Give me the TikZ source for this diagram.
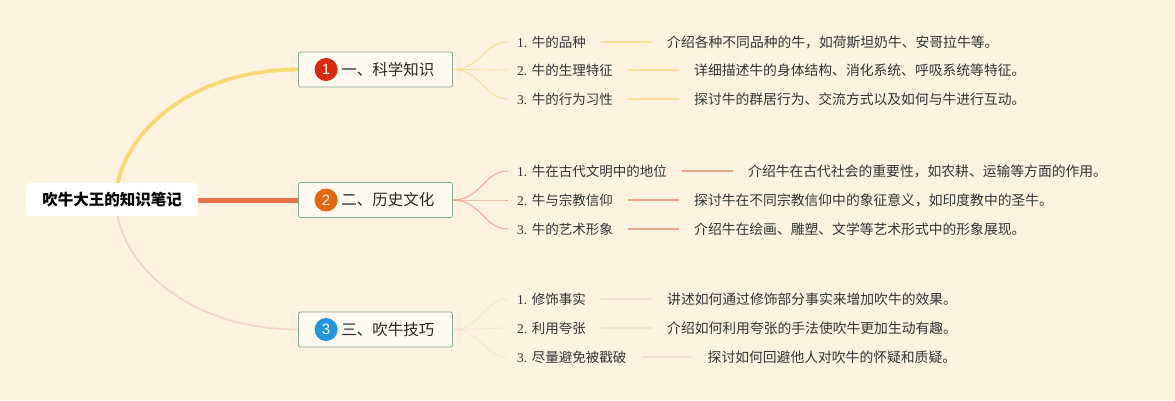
\documentclass[tikz,border=0pt]{standalone}
\usepackage{fontspec}
\setmainfont{Liberation Serif}
\newfontfamily\cjk{Noto Sans CJK SC}
\newfontfamily\numfont{Liberation Sans}
\usetikzlibrary{positioning}
\definecolor{bgc}{HTML}{FDF3E0}
\definecolor{ylw}{HTML}{F9D876}
\definecolor{org}{HTML}{E5744A}
\definecolor{pnk}{HTML}{F2D6C6}
\definecolor{lylw}{HTML}{F9DF98}
\definecolor{lorg}{HTML}{EBA68B}
\definecolor{lpnk}{HTML}{F5E3D8}
\definecolor{bxb}{HTML}{88AB90}
\definecolor{bxf}{HTML}{FFFAF0}
\definecolor{c1}{HTML}{D42B0F}
\definecolor{c2}{HTML}{E4670F}
\definecolor{c3}{HTML}{2196DA}
\definecolor{txt}{HTML}{333333}
\begin{document}
\begin{tikzpicture}[x=1pt,y=-1pt,
  rootbox/.style={fill=white, rounded corners=4pt, minimum width=172pt, minimum height=33pt, inner sep=0pt, font=\cjk\bfseries\fontsize{15.5}{17}\selectfont, text=black},
  brbox/.style={draw=bxb, line width=0.8pt, fill=bxf, rounded corners=2pt, minimum width=154pt, minimum height=35pt, inner sep=0pt},
  brtext/.style={anchor=west, inner sep=0pt, font=\cjk\fontsize{15.5}{17}\selectfont, text=black!85},
  numc/.style={circle, minimum size=23pt, inner sep=0pt, text=white, font=\numfont\fontsize{15}{16}\selectfont},
  leaf/.style={anchor=west, inner sep=0pt, text=txt, font=\fontsize{13.5}{15}\selectfont},
  desc/.style={inner sep=0pt, text=txt, font=\cjk\fontsize{13.8}{15}\selectfont, right=81pt of #1},
  lk/.style={line width=1.2pt, shorten <=15pt, shorten >=15pt},
  tw/.style={line width=0.9pt}
]
\fill[bgc] (0,0) rectangle (1175,400);
\useasboundingbox (0,0) rectangle (1175,400);

% branch boxes
\node[brbox] (b1) at (375.5,69.5) {};
\node[brbox] (b2) at (375.5,200) {};
\node[brbox] (b3) at (375.5,329.5) {};

% root anchor coordinate
\coordinate (rc) at (116,200);

% main connectors
\draw[ylw, line width=3.8pt] (rc) .. controls (116,140) and (185,69.5) .. (b1.west);
\draw[pnk, line width=1.8pt] (rc) .. controls (116,260) and (185,329.5) .. (b3.west);
\draw[org, line width=5pt] (rc) -- (b2.west);

% root
\node[rootbox] (root) at (112,199.5) {吹牛大王的知识笔记};

% box contents
\node[numc, fill=c1] (n1) at ([xshift=28pt]b1.west) {1};
\node[brtext] (t1) at ([xshift=43pt]b1.west) {一、科学知识};
\node[numc, fill=c2] (n2) at ([xshift=28pt]b2.west) {2};
\node[brtext] (t2) at ([xshift=43pt]b2.west) {二、历史文化};
\node[numc, fill=c3] (n3) at ([xshift=28pt]b3.west) {3};
\node[brtext] (t3) at ([xshift=43pt]b3.west) {三、吹牛技巧};

% leaves branch 1
\node[leaf] (l11) at (517,42) {1. {\cjk 牛的品种}};
\node[leaf] (l12) at (517,70) {2. {\cjk 牛的生理特征}};
\node[leaf] (l13) at (517,99) {3. {\cjk 牛的行为习性}};
\node[desc=l11] (d11) {介绍各种不同品种的牛，如荷斯坦奶牛、安哥拉牛等。};
\node[desc=l12] (d12) {详细描述牛的身体结构、消化系统、呼吸系统等特征。};
\node[desc=l13] (d13) {探讨牛的群居行为、交流方式以及如何与牛进行互动。};
% leaves branch 2
\node[leaf] (l21) at (517,171) {1. {\cjk 牛在古代文明中的地位}};
\node[leaf] (l22) at (517,200) {2. {\cjk 牛与宗教信仰}};
\node[leaf] (l23) at (517,229) {3. {\cjk 牛的艺术形象}};
\node[desc=l21] (d21) {介绍牛在古代社会的重要性，如农耕、运输等方面的作用。};
\node[desc=l22] (d22) {探讨牛在不同宗教信仰中的象征意义，如印度教中的圣牛。};
\node[desc=l23] (d23) {介绍牛在绘画、雕塑、文学等艺术形式中的形象展现。};
% leaves branch 3
\node[leaf] (l31) at (517,299) {1. {\cjk 修饰事实}};
\node[leaf] (l32) at (517,328) {2. {\cjk 利用夸张}};
\node[leaf] (l33) at (517,357) {3. {\cjk 尽量避免被戳破}};
\node[desc=l31] (d31) {讲述如何通过修饰部分事实来增加吹牛的效果。};
\node[desc=l32] (d32) {介绍如何利用夸张的手法使吹牛更加生动有趣。};
\node[desc=l33] (d33) {探讨如何回避他人对吹牛的怀疑和质疑。};

% twigs from boxes to leaves
\foreach \b/\c in {1/lylw,2/lorg,3/lpnk}{
  \foreach \i in {1,2,3}{
    \draw[tw, \c] (b\b.east) .. controls +(28,0) and +(-24,0) .. ([xshift=-9pt]l\b\i.west);
  }
}
% links leaf -> description
\foreach \i in {1,2,3}{
  \draw[lk, lylw] (l1\i) -- (d1\i);
  \draw[lk, lorg] (l2\i) -- (d2\i);
  \draw[lk, lpnk] (l3\i) -- (d3\i);
}
\end{tikzpicture}
\end{document}
